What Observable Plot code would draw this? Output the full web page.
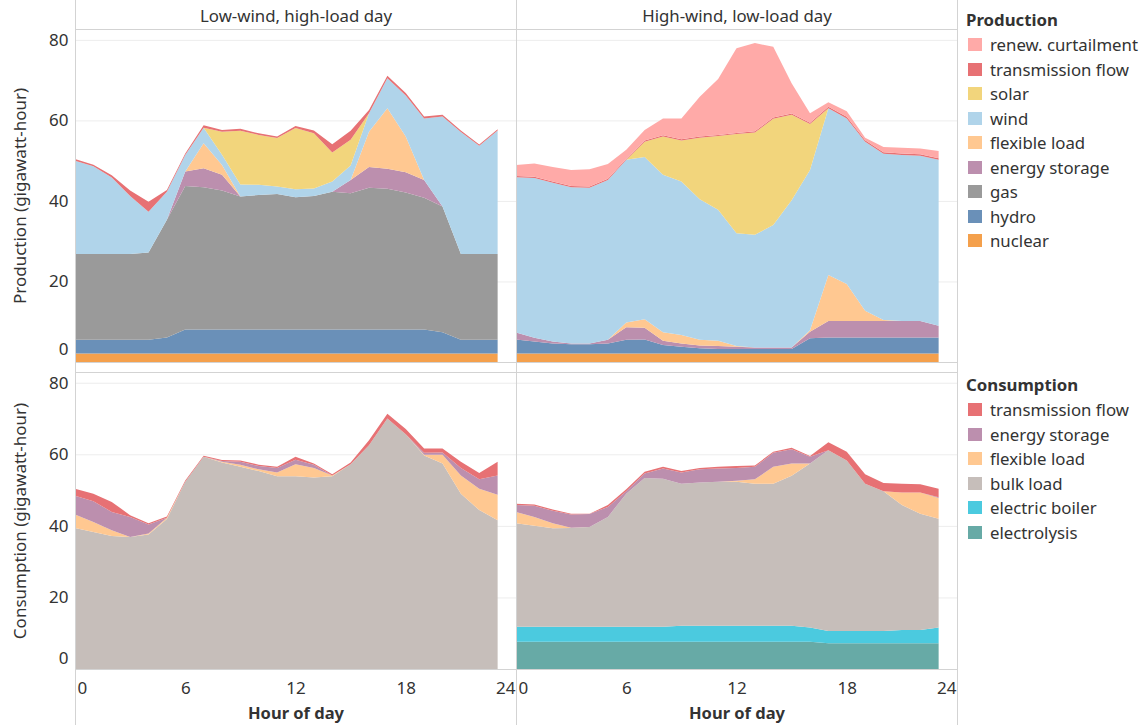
<!DOCTYPE html>
<html><head><meta charset="utf-8">
<script src="https://cdn.jsdelivr.net/npm/d3@7"></script>
<script src="https://cdn.jsdelivr.net/npm/@observablehq/plot@0.6"></script>
<style>
body{margin:0;background:#fff;font-family:"Noto Sans",sans-serif;}
#wrap{position:relative;width:1147px;height:725px;overflow:hidden;background:#fff;}
#top,#bot{position:absolute;left:0;}
#top{top:0}
#bot{top:368px}
.legend{position:absolute;left:966px;font-size:16.8px;color:#333;}
.legend .title{font-weight:bold;height:24.5px;line-height:24.5px;}
.legend .item{display:flex;align-items:center;height:24.5px;padding-left:2px;}
.legend .sw{width:14px;height:13px;margin-right:8px;flex:none;}
#legP{top:8px}
#legC{top:373px}
</style>
</head><body>
<div id="wrap"><div id="top"></div><div id="bot"></div><div id="legP" class="legend"></div><div id="legC" class="legend"></div></div>
<script>
const hours = d3.range(24);
const days = ["Low-wind, high-load day", "High-wind, low-load day"];
const xTitle = "Hour of day";
const prodTitle = "Production";
const consTitle = "Consumption";
const prodAxisLabel = "Production (gigawatt-hour)";
const consAxisLabel = "Consumption (gigawatt-hour)";
const yTicks = [20, 40, 60, 80];
const xTicksMid = [6, 12, 18];

// Production series (stack order bottom -> top)
const prodSeries = ["nuclear","hydro","gas","energy storage","flexible load","wind","solar","transmission flow","renew. curtailment"];
const prodColors = ["#F4A04C","#6A90B8","#9A9A9A","#BC8FAE","#FFC891","#B0D4EA","#F2D57C","#E77174","#FFAAA8"];

// Low-wind, high-load day - production
const lw_nuclear = [2.1,2.1,2.1,2.1,2.1,2.1,2.1,2.1,2.1,2.1,2.1,2.1,2.1,2.1,2.1,2.1,2.1,2.1,2.1,2.1,2.1,2.1,2.1,2.1];
const lw_hydro = [3.4,3.4,3.4,3.4,3.4,4.0,6.0,6.0,6.0,6.0,6.0,6.0,6.0,6.0,6.0,6.0,6.0,6.0,6.0,6.0,5.3,3.4,3.4,3.4];
const lw_gas = [21.3,21.3,21.3,21.3,21.7,29.2,35.6,35.3,34.5,33.0,33.4,33.6,32.8,33.1,34.2,33.8,35.2,34.9,34.0,32.7,31.2,21.3,21.3,21.3];
const lw_storage = [0,0,0,0,0,0,3.6,4.7,3.9,0,0,0,0,0,0,3.3,5.1,5.0,5.0,4.4,0,0,0,0];
const lw_flex = [0,0,0,0,0,0,0,6.2,2.4,0,0,0,0,0,0,0,8.8,15.0,8.9,0,0,0,0,0];
const lw_wind = [23.2,21.8,19.0,14.4,10.1,7.0,4.1,3.9,2.6,3.0,2.5,1.9,2.0,1.9,2.5,3.6,4.6,7.5,10.2,15.3,22.4,30.3,26.9,30.7];
const lw_solar = [0,0,0,0,0,0,0,0,5.7,13.3,12.4,12.0,15.2,13.7,7.2,6.4,0,0,0,0,0,0,0,0];
const lw_trans = [0.4,0.4,0.6,1.4,2.5,0.4,0.4,0.6,0.4,0.5,0.4,0.4,0.5,0.7,2.1,2.2,0.8,0.6,0.6,0.5,0.4,0.4,0.3,0.3];
const lw_curt = [0,0,0,0,0,0,0,0,0,0,0,0,0,0,0,0,0,0,0,0,0,0,0,0];

// High-wind, low-load day - production
const hw_nuclear = [2.1,2.1,2.1,2.1,2.1,2.1,2.1,2.1,2.1,2.1,2.1,2.1,2.1,2.1,2.1,2.1,2.1,2.1,2.1,2.1,2.1,2.1,2.1,2.1];
const hw_hydro = [3.5,3.0,2.5,2.3,2.3,2.5,3.4,3.5,2.1,1.7,1.3,1.1,1.1,1.1,1.1,1.1,3.8,4.0,4.0,4.0,4.0,4.0,4.0,4.0];
const hw_gas = [0,0,0,0,0,0,0,0,0,0,0,0,0,0,0,0,0,0,0,0,0,0,0,0];
const hw_storage = [1.7,0.9,0.5,0.2,0.2,0.9,3.1,2.9,1.1,0.8,0.7,0.8,0.6,0.4,0.4,0.4,1.6,4.1,4.1,4.1,4.1,4.1,4.1,2.9];
const hw_flex = [0,0,0,0,0,0,1.2,2.1,2.1,2.1,1.4,1.3,0.2,0,0,0,0.4,11.4,9.2,2.5,0.2,0,0,0];
const hw_wind = [38.6,39.7,39.4,38.8,38.7,39.7,40.4,40.3,39.1,38.1,34.9,32.5,28.0,28.0,30.4,36.6,39.8,41.4,41.1,42.0,41.3,41.2,41.0,41.2];
const hw_solar = [0,0,0,0,0,0,0,3.8,9.5,10.2,15.3,18.3,24.6,25.4,26.4,21.2,11.4,0,0,0,0,0,0,0];
const hw_trans = [0.3,0.3,0.3,0.3,0.3,0.3,0.3,0.3,0.3,0.3,0.3,0.3,0.3,0.3,0.3,0.3,0.3,0.4,0.4,0.4,0.4,0.4,0.4,0.4];
const hw_curt = [2.7,3.3,3.6,4.0,4.3,3.7,2.2,2.6,4.2,5.2,9.9,13.9,21.0,21.9,17.6,7.5,2.4,1.1,1.4,0.6,1.3,1.4,1.4,1.8];

// Consumption series (stack order bottom -> top)
const consSeries = ["electrolysis","electric boiler","bulk load","flexible load","energy storage","transmission flow"];
const consColors = ["#67AAA6","#4BCADF","#C6BEBA","#FFC891","#BC8FAE","#E77174"];

const lwc_electrolysis = [0,0,0,0,0,0,0,0,0,0,0,0,0,0,0,0,0,0,0,0,0,0,0,0];
const lwc_boiler = [0,0,0,0,0,0,0,0,0,0,0,0,0,0,0,0,0,0,0,0,0,0,0,0];
const lwc_bulk = [39.4,38.3,37.2,36.9,37.6,41.9,52.3,59.3,57.7,56.5,55.3,53.9,53.9,53.5,53.9,57.2,62.5,70.0,65.6,59.7,57.4,49.0,44.4,41.6];
const lwc_flex = [3.8,2.8,1.6,0,0.3,0.4,0,0,0.2,0.6,0.5,1.0,3.3,2.7,0.2,0,0,0,0,0.2,2.5,5.1,6.0,7.1];
const lwc_storage = [5.2,5.8,5.1,5.6,2.5,0,0,0,0.2,0.8,0.9,1.3,1.3,0.9,0,0,0,0,0,0.5,0.6,2.1,2.6,5.4];
const lwc_trans = [2.0,2.1,2.8,0.5,0.3,0.3,0.4,0.3,0.3,0.4,0.4,0.3,0.8,0.3,0.3,0.5,1.4,1.3,1.5,1.2,1.1,1.7,1.8,3.8];

const hwc_electrolysis = [7.6,7.6,7.6,7.6,7.6,7.6,7.6,7.6,7.6,7.6,7.6,7.6,7.6,7.6,7.6,7.6,7.6,7.2,7.2,7.2,7.2,7.2,7.2,7.2];
const hwc_boiler = [4.2,4.2,4.2,4.2,4.2,4.2,4.2,4.2,4.2,4.5,4.5,4.5,4.5,4.5,4.5,4.5,4.0,3.4,3.4,3.4,3.4,3.7,3.7,4.4];
const hwc_bulk = [28.9,28.2,27.5,27.6,27.9,30.7,37.2,41.6,41.4,39.7,40.0,40.2,40.2,39.7,39.7,41.9,45.8,50.5,47.7,41.2,39.1,34.9,32.5,30.4];
const hwc_flex = [3.2,2.5,1.4,0.1,0,0,0,0,0,0,0,0,0.3,1.2,4.7,3.4,0,0,0,0,0,3.5,5.9,5.8];
const hwc_storage = [1.9,3.1,3.5,3.7,3.6,2.8,0.7,1.2,2.8,3.1,3.7,3.7,3.6,3.5,3.9,4.0,1.9,0,0,0,0,0,0,0.2];
const hwc_trans = [0.4,0.4,0.4,0.2,0.1,0.5,0.5,0.5,0.5,0.4,0.4,0.5,0.5,0.4,0.3,0.4,0.2,2.3,2.4,2.6,2.3,2.5,2.3,2.4];

const prodByDay = [
  [lw_nuclear,lw_hydro,lw_gas,lw_storage,lw_flex,lw_wind,lw_solar,lw_trans,lw_curt],
  [hw_nuclear,hw_hydro,hw_gas,hw_storage,hw_flex,hw_wind,hw_solar,hw_trans,hw_curt]
];
const consByDay = [
  [lwc_electrolysis,lwc_boiler,lwc_bulk,lwc_flex,lwc_storage,lwc_trans],
  [hwc_electrolysis,hwc_boiler,hwc_bulk,hwc_flex,hwc_storage,hwc_trans]
];

function rows(byDay, series) {
  const out = [];
  byDay.forEach((arrs, di) => arrs.forEach((arr, si) => hours.forEach(h =>
    out.push({day: days[di], series: series[si], hour: h, value: arr[h]}))));
  return out;
}
const prodRows = rows(prodByDay, prodSeries);
const consRows = rows(consByDay, consSeries);

const gridC = "#ededed", lineC = "#d3d3d3", textC = "#333";
const font = "Noto Sans";

function panel(opts) {
  const {data, series, colors, yMax, label, top, height, marginTop, marginBottom, zeroDy, bottomAxis} = opts;
  const marks = [
    Plot.gridY(yTicks, {stroke: gridC, strokeOpacity: 1}),
    Plot.areaY(data, {x: "hour", y: "value", fill: "series", fx: "day", order: series, curve: "linear"}),
    Plot.frame({stroke: lineC}),
    Plot.ruleX([0, 24], {stroke: lineC, insetTop: -marginTop, insetBottom: -marginBottom}),
    Plot.axisY(yTicks, {tickSize: 0, tickPadding: 7, fontSize: 17, color: textC,
      label, labelAnchor: "center", labelOffset: 62, labelArrow: "none"}),
    Plot.axisY([0], {tickSize: 0, tickPadding: 7, fontSize: 17, dy: zeroDy, label: null}),
  ];
  if (top) {
    marks.push(Plot.axisFx({anchor: "top", tickSize: 0, tickPadding: 8, fontSize: 16.8, label: null}));
  }
  if (bottomAxis) {
    marks.push(
      Plot.axisX(xTicksMid, {tickSize: 0, tickPadding: 12, fontSize: 17, label: null}),
      Plot.axisX([0], {tickSize: 0, tickPadding: 12, fontSize: 17, textAnchor: "start", dx: 2, label: null}),
      Plot.axisX([24], {tickSize: 0, tickPadding: 12, fontSize: 17, textAnchor: "end", dx: -1, label: null}),
      Plot.text(days, {fx: d => d, text: () => xTitle, frameAnchor: "bottom", dy: 49, fontSize: 16.5, fontWeight: "bold", fill: textC})
    );
  }
  return Plot.plot({
    width: 957, height, marginLeft: 75, marginRight: 0, marginTop, marginBottom,
    style: {fontFamily: font, color: textC, background: "transparent", overflow: "visible"},
    fx: {domain: days, padding: 0, label: null, axis: null},
    x: {domain: [0, 24], axis: null},
    y: {domain: [0, yMax]},
    color: {domain: series, range: colors},
    marks
  });
}

document.getElementById("top").append(panel({
  data: prodRows, series: prodSeries, colors: prodColors, yMax: 82.7, label: prodAxisLabel,
  top: true, height: 368, marginTop: 29, marginBottom: 6, zeroDy: -13, bottomAxis: false
}));
document.getElementById("bot").append(panel({
  data: consRows, series: consSeries, colors: consColors, yMax: 83, label: consAxisLabel,
  top: false, height: 357, marginTop: 4, marginBottom: 56, zeroDy: -11, bottomAxis: true
}));

function legend(el, title, series, colors) {
  const t = document.createElement("div"); t.className = "title"; t.textContent = title; el.append(t);
  for (let i = series.length - 1; i >= 0; i--) {
    const it = document.createElement("div"); it.className = "item";
    const sw = document.createElement("div"); sw.className = "sw"; sw.style.background = colors[i];
    const tx = document.createElement("span"); tx.textContent = series[i];
    it.append(sw, tx); el.append(it);
  }
}
legend(document.getElementById("legP"), prodTitle, prodSeries, prodColors);
legend(document.getElementById("legC"), consTitle, consSeries, consColors);
</script>
</body></html>
